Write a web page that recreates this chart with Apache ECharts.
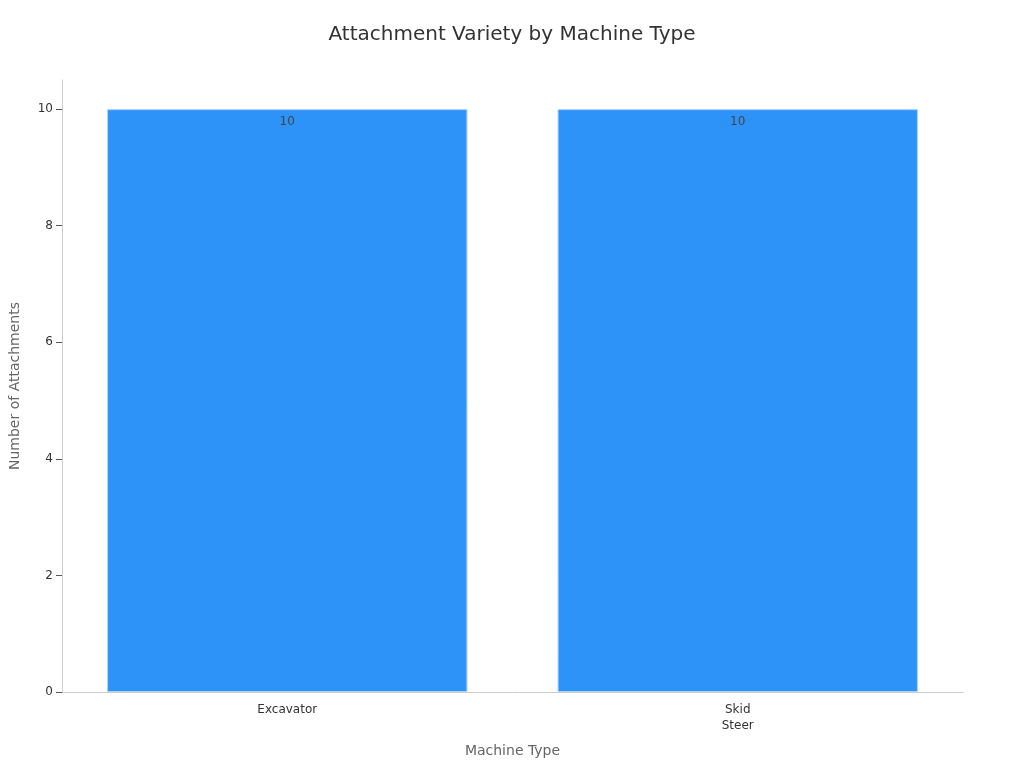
<!DOCTYPE html>
<html>
<head>
<meta charset="utf-8">
<script src="https://cdn.jsdelivr.net/npm/echarts@6/dist/echarts.min.js"></script>
<style>html,body{margin:0;padding:0;background:#fff;}#c{width:1024px;height:768px;}</style>
</head>
<body>
<div id="c"></div>
<script>
const categories = ["Excavator", "Skid Steer"];
const attachments = [10, 10];
const yTicks = [0, 2, 4, 6, 8, 10];

const chart = echarts.init(document.getElementById('c'));
chart.setOption({
  animation: false,
  textStyle: { fontFamily: 'DejaVu Sans' },
  title: {
    text: 'Attachment Variety by Machine Type',
    left: 'center', top: 20,
    textStyle: { fontFamily: 'DejaVu Sans', fontSize: 20, fontWeight: 'normal', color: '#333' }
  },
  grid: { left: 59, right: 61, top: 80, bottom: 76, containLabel: false },
  xAxis: {
    type: 'category',
    data: categories,
    name: 'Machine Type',
    nameLocation: 'middle',
    nameGap: 52,
    nameTextStyle: { fontSize: 14, color: '#666' },
    axisLine: { lineStyle: { color: '#ccc' } },
    axisTick: { alignWithLabel: true, lineStyle: { color: '#888' } },
    axisLabel: { fontSize: 12, color: '#333', margin: 10, lineHeight: 16,
      formatter: v => v.replace(' ', '\n') }
  },
  yAxis: {
    type: 'value',
    min: 0, max: 10.5,
    name: 'Number of Attachments',
    nameLocation: 'middle',
    nameGap: 40,
    nameTextStyle: { fontSize: 14, color: '#666' },
    axisLine: { show: true, lineStyle: { color: '#ccc' } },
    axisTick: { show: true, length: 6, customValues: yTicks, lineStyle: { color: '#555' } },
    splitLine: { show: false },
    axisLabel: { fontSize: 12, color: '#333', margin: 9, customValues: yTicks }
  },
  series: [{
    type: 'bar',
    data: attachments,
    barWidth: '80%',
    itemStyle: { color: '#2e93f9', borderColor: '#a8d4ff', borderWidth: 1 },
    label: { show: true, position: 'insideTop', distance: 7, color: '#444', fontSize: 12 }
  }]
});
</script>
</body>
</html>
